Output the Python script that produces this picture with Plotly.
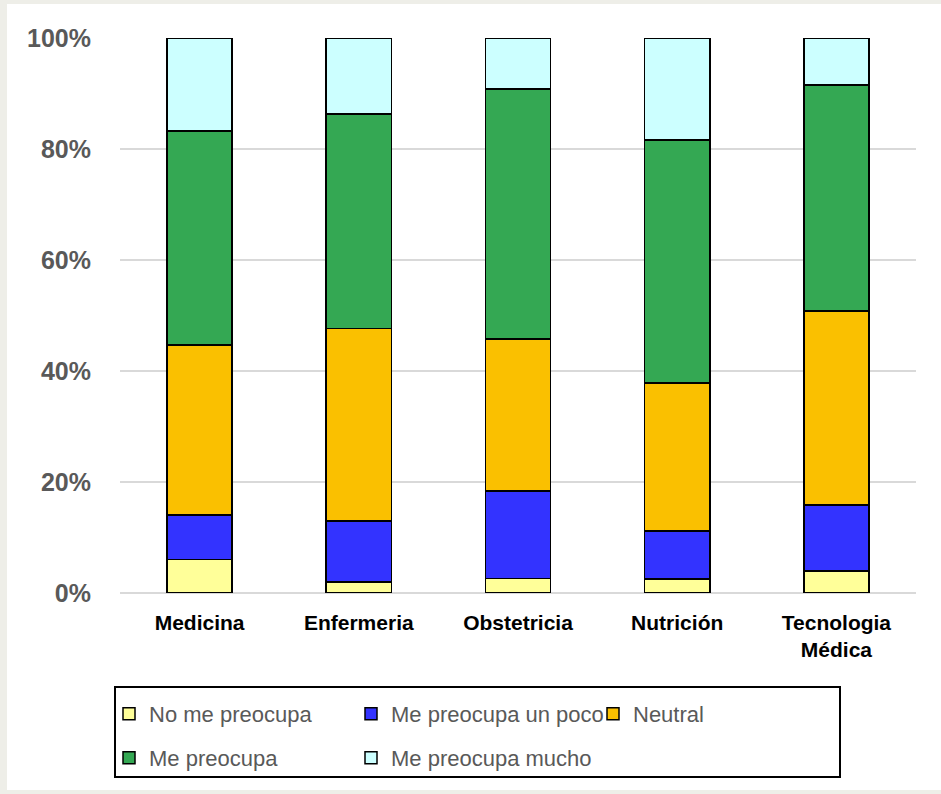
import plotly.graph_objects as go

categories = ["Medicina", "Enfermeria", "Obstetricia", "Nutrición", "Tecnologia<br>Médica"]
series_names = ["No me preocupa", "Me preocupa un poco", "Neutral", "Me preocupa", "Me preocupa mucho"]
no_me_preocupa = [6.0, 2.0, 2.6, 2.5, 4.0]
me_preocupa_un_poco = [8.1, 11.0, 15.8, 8.7, 11.9]
neutral = [30.6, 34.7, 27.4, 26.6, 34.9]
me_preocupa = [38.5, 38.6, 45.0, 43.8, 40.7]
me_preocupa_mucho = [16.8, 13.7, 9.2, 18.4, 8.5]
series_values = [no_me_preocupa, me_preocupa_un_poco, neutral, me_preocupa, me_preocupa_mucho]
colors = ["#FFFF99", "#3333FF", "#FAC000", "#34A853", "#CCFFFF"]
legend_rows = ["legend", "legend", "legend", "legend2", "legend2"]
y_ticks = [0, 20, 40, 60, 80, 100]

fig = go.Figure()
for name, vals, col, lg in zip(series_names, series_values, colors, legend_rows):
    fig.add_trace(go.Bar(
        x=categories, y=vals, name=name, legend=lg,
        marker=dict(color=col, line=dict(color="black", width=1.5)),
    ))

W, H = 941, 794
L, R, T, B = 120, 25, 38, 201
pw, ph = W - L - R, H - T - B

def px_x(p):
    return (p - L) / pw

def px_y(p):
    return (H - B - p) / ph

legend_common = dict(
    orientation="h",
    xanchor="left", yanchor="top",
    borderwidth=0,
    bgcolor="rgba(0,0,0,0)",
    font=dict(size=22, color="#595959"),
    entrywidth=197,
    traceorder="normal",
)

fig.update_layout(
    width=W, height=H,
    margin=dict(l=L, r=R, t=T, b=B),
    barmode="stack",
    bargap=0.59,
    paper_bgcolor="#EEEEE8",
    plot_bgcolor="white",
    font=dict(family="Liberation Sans, Arial, sans-serif"),
    showlegend=True,
    legend=dict(legend_common, x=px_x(109), y=px_y(693)),
    legend2=dict(legend_common, x=px_x(109), y=px_y(737)),
    xaxis=dict(
        tickfont=dict(size=21, color="black", family="Liberation Sans, Arial, sans-serif", weight="bold"),
        showgrid=False, showline=False, ticks="",
        ticklabelstandoff=15,
    ),
    yaxis=dict(
        range=[0, 100],
        tickvals=y_ticks,
        ticktext=[f"{v}%" for v in y_ticks],
        tickfont=dict(size=25, color="#595959", family="Liberation Sans, Arial, sans-serif", weight="bold"),
        showgrid=True, gridcolor="#D9D9D9", gridwidth=2,
        zeroline=True, zerolinecolor="#D9D9D9", zerolinewidth=2,
        showline=False, ticks="",
        ticklabelstandoff=28,
    ),
    shapes=[
        dict(type="rect", xref="paper", yref="paper", layer="below",
             x0=px_x(7), x1=px_x(945), y0=px_y(790), y1=px_y(4),
             fillcolor="white", line=dict(width=0)),
        dict(type="rect", xref="paper", yref="paper", layer="above",
             x0=px_x(115), x1=px_x(840), y0=px_y(777), y1=px_y(687),
             fillcolor="rgba(0,0,0,0)", line=dict(color="black", width=2)),
    ],
)

fig.write_html(
    "out.html",
    config={"displayModeBar": False},
    post_script="document.body.style.margin='0';document.body.style.overflow='hidden';",
)
